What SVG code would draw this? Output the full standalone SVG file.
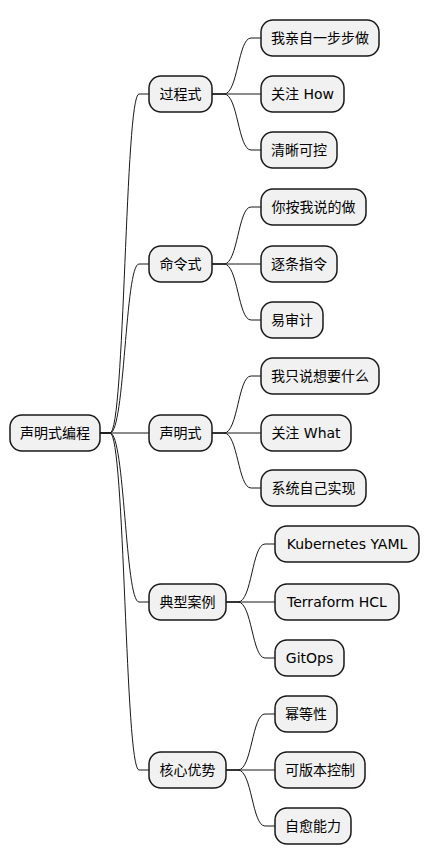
<svg xmlns="http://www.w3.org/2000/svg" width="429" height="865" viewBox="0 0 429 865">
<style>
.n rect{fill:#F1F1F1;stroke:#181818;stroke-width:1.5}
.n text{font-family:"DejaVu Sans","Noto Sans CJK SC",sans-serif;font-size:14px;fill:#000;text-anchor:middle}
.c path{fill:none;stroke:#181818;stroke-width:1}
</style>
<rect width="429" height="865" fill="#FFFFFF"/>
<g id="connectors" class="c">
<path d="M100,433 L110,433 C125,433 125,94 139,94 L149,94"/>
<path d="M100,433 L110,433 C125,433 125,264 139,264 L149,264"/>
<path d="M100,433 L149,433"/>
<path d="M100,433 L110,433 C125,433 125,602 139,602 L149,602"/>
<path d="M100,433 L110,433 C125,433 125,770 139,770 L149,770"/>
<path d="M212,94 L224,94 C238,94 238,38 251,38 L261,38"/>
<path d="M212,94 L261,94"/>
<path d="M212,94 L224,94 C238,94 238,150 251,150 L261,150"/>
<path d="M212,264 L224,264 C238,264 238,207 251,207 L261,207"/>
<path d="M212,264 L261,264"/>
<path d="M212,264 L224,264 C238,264 238,320 251,320 L261,320"/>
<path d="M212,433 L224,433 C238,433 238,376 251,376 L261,376"/>
<path d="M212,433 L261,433"/>
<path d="M212,433 L224,433 C238,433 238,488 251,488 L261,488"/>
<path d="M226,602 L238,602 C252,602 252,544 265,544 L275,544"/>
<path d="M226,602 L275,602"/>
<path d="M226,602 L238,602 C252,602 252,658 265,658 L275,658"/>
<path d="M226,770 L238,770 C252,770 252,714 265,714 L275,714"/>
<path d="M226,770 L275,770"/>
<path d="M226,770 L238,770 C252,770 252,826 265,826 L275,826"/>
</g>
<g id="root" class="n"><rect x="10" y="415" width="90" height="36" rx="12"/><text x="55" y="438">声明式编程</text></g>
<g id="n1" class="n"><rect x="149" y="76" width="63" height="36" rx="12"/><text x="180.5" y="99">过程式</text></g>
<g id="n2" class="n"><rect x="149" y="246" width="63" height="36" rx="12"/><text x="180.5" y="269">命令式</text></g>
<g id="n3" class="n"><rect x="149" y="415" width="63" height="36" rx="12"/><text x="180.5" y="438">声明式</text></g>
<g id="n4" class="n"><rect x="149" y="584" width="77" height="36" rx="12"/><text x="187.5" y="607">典型案例</text></g>
<g id="n5" class="n"><rect x="149" y="752" width="77" height="36" rx="12"/><text x="187.5" y="775">核心优势</text></g>
<g id="n1a" class="n"><rect x="261" y="20" width="118" height="36" rx="12"/><text x="320" y="43">我亲自一步步做</text></g>
<g id="n1b" class="n"><rect x="261" y="76" width="83" height="36" rx="12"/><text x="302.5" y="99">关注 How</text></g>
<g id="n1c" class="n"><rect x="261" y="132" width="76" height="36" rx="12"/><text x="299" y="155">清晰可控</text></g>
<g id="n2a" class="n"><rect x="261" y="189" width="105" height="36" rx="12"/><text x="313.5" y="212">你按我说的做</text></g>
<g id="n2b" class="n"><rect x="261" y="246" width="76" height="36" rx="12"/><text x="299" y="269">逐条指令</text></g>
<g id="n2c" class="n"><rect x="261" y="302" width="62" height="36" rx="12"/><text x="292" y="325">易审计</text></g>
<g id="n3a" class="n"><rect x="261" y="358" width="118" height="36" rx="12"/><text x="320" y="381">我只说想要什么</text></g>
<g id="n3b" class="n"><rect x="261" y="415" width="90" height="36" rx="12"/><text x="306" y="438">关注 What</text></g>
<g id="n3c" class="n"><rect x="261" y="470" width="105" height="36" rx="12"/><text x="313.5" y="493">系统自己实现</text></g>
<g id="n4a" class="n"><rect x="275" y="526" width="144" height="36" rx="12"/><text x="347" y="549">Kubernetes YAML</text></g>
<g id="n4b" class="n"><rect x="275" y="584" width="124" height="36" rx="12"/><text x="337" y="607">Terraform HCL</text></g>
<g id="n4c" class="n"><rect x="275" y="640" width="69" height="36" rx="12"/><text x="309.5" y="663">GitOps</text></g>
<g id="n5a" class="n"><rect x="275" y="696" width="62" height="36" rx="12"/><text x="306" y="719">幂等性</text></g>
<g id="n5b" class="n"><rect x="275" y="752" width="90" height="36" rx="12"/><text x="320" y="775">可版本控制</text></g>
<g id="n5c" class="n"><rect x="275" y="808" width="76" height="36" rx="12"/><text x="313" y="831">自愈能力</text></g>
</svg>
